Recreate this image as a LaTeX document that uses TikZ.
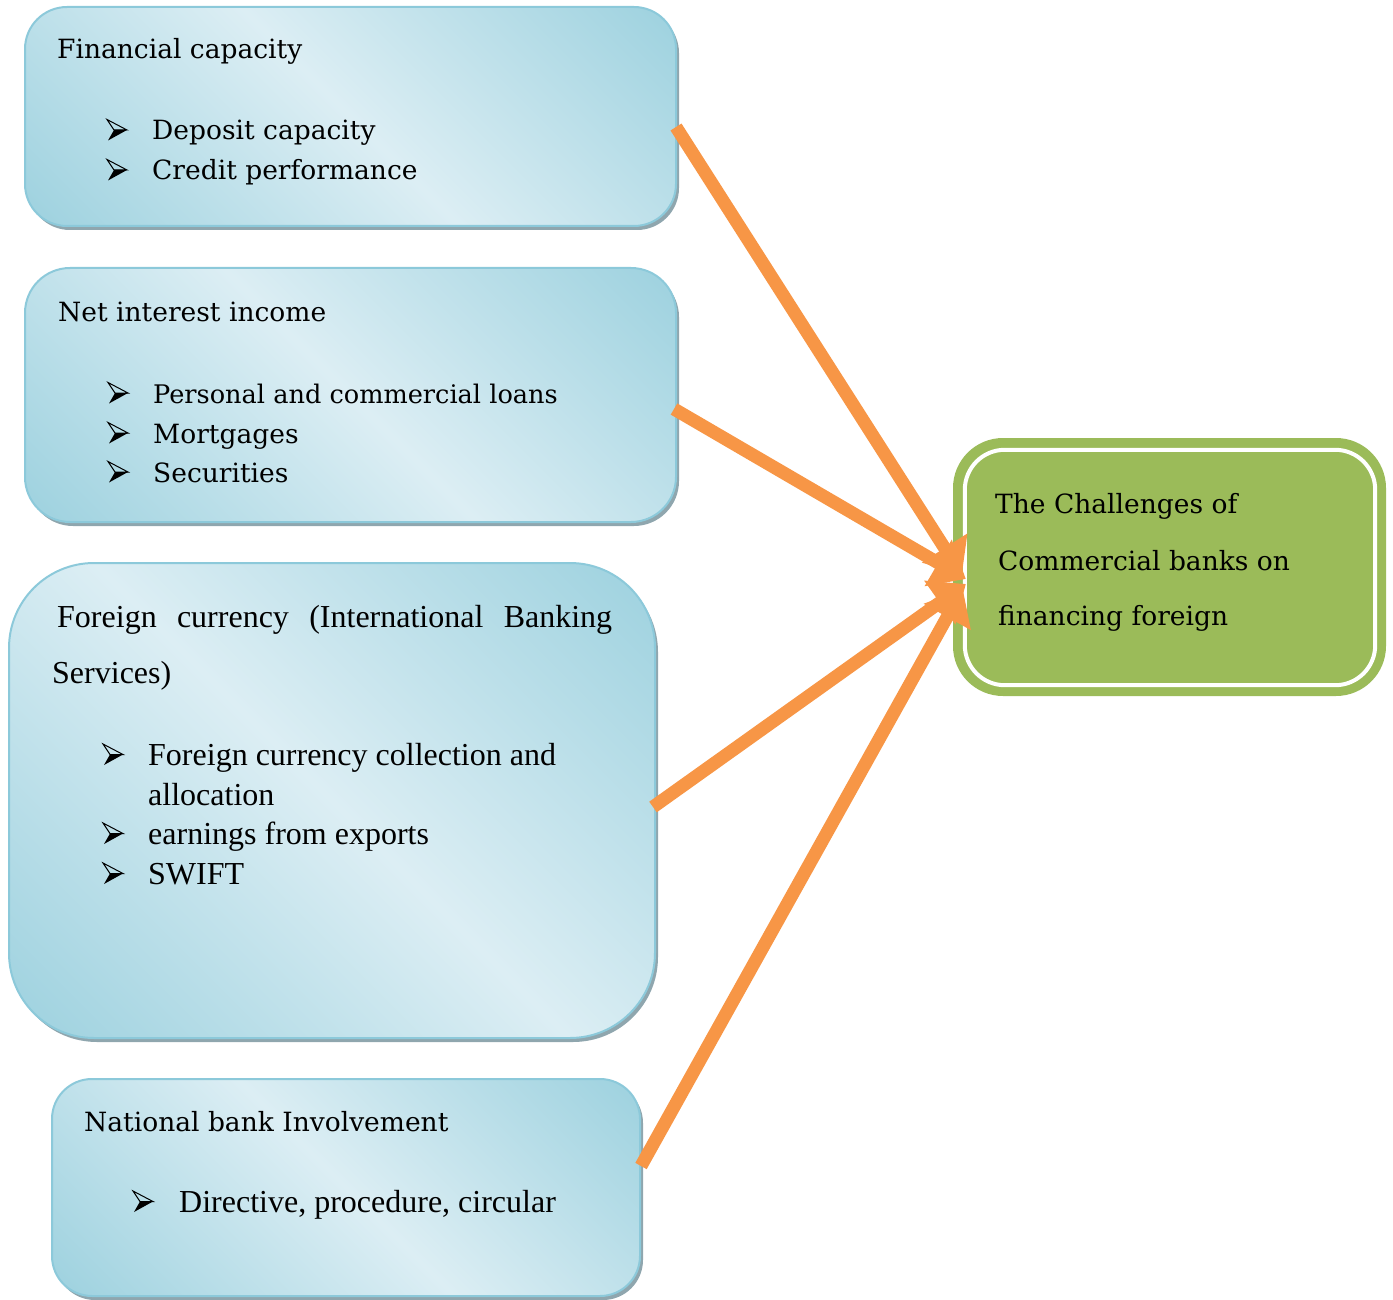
\documentclass[tikz,border=0pt]{standalone}
\usepackage{fontspec}
\setmainfont{Liberation Serif}
\newfontfamily\cambfont{DejaVu Serif}
\usetikzlibrary{arrows.meta,calc}

\definecolor{aquadark}{HTML}{98CFDD}
\definecolor{aqualight}{HTML}{DCEEF4}
\definecolor{aquaedge}{HTML}{8CC9DA}
\definecolor{boxshadow}{HTML}{8FA6AE}
\definecolor{olive}{HTML}{9BBB59}
\definecolor{accent}{HTML}{F79646}

% soft diagonal wash: dark corners, light band through the middle
\pgfdeclareverticalshading{boxwash}{100bp}{%
  color(0bp)=(aquadark); color(12bp)=(aquadark); color(50bp)=(aqualight);
  color(88bp)=(aquadark); color(100bp)=(aquadark)}

\begin{document}
\begin{tikzpicture}[x=1pt,y=-1pt,
  bluebox/.style={draw=aquaedge, line width=2pt,
    shading=boxwash, shading angle=-45, inner sep=0pt,
    preaction={fill=boxshadow, transform canvas={xshift=3pt,yshift=-4pt}}},
  goalbox/.style={fill=olive, rounded corners=50pt, inner sep=0pt},
  headtext/.style={anchor=base west, inner sep=0pt, font=\cambfont\fontsize{26.5}{32}\selectfont},
  itemtext/.style={anchor=base west, inner sep=0pt, font=\cambfont\fontsize{26.5}{32}\selectfont},
  romantext/.style={anchor=base west, inner sep=0pt, font=\fontsize{32}{38}\selectfont},
  conn/.style={draw=accent, line width=13pt,
    -{Triangle[length=32pt,width=52pt]}},
  arrowbullet/.pic={
    \fill[black] (7,0) -- (20,0) -- (1,10.5) -- cycle;
    \draw[black, line width=1pt, line join=miter] (0,-10.5) -- (20,0) -- (7,0) -- cycle;
  }
]
\useasboundingbox (0,0) rectangle (1393,1300);

% ---------- source boxes ----------
\node[bluebox, rounded corners=42pt, minimum width=651pt, minimum height=219pt] (fin) at (350.5,116.5) {};
\node[bluebox, rounded corners=45pt, minimum width=651pt, minimum height=254pt] (nii) at (350.5,395) {};
\node[bluebox, rounded corners=85pt, minimum width=646pt, minimum height=475pt] (fx) at (332,800.5) {};
\node[bluebox, rounded corners=40pt, minimum width=588pt, minimum height=217pt] (nbe) at (346,1187.5) {};

% ---------- target box ----------
\node[goalbox, minimum width=433pt, minimum height=258pt] (goal) at (1169.5,567) {};
\draw[white, line width=4pt, rounded corners=40pt]
  ($(goal.north west)+(12,12)$) rectangle ($(goal.south east)+(-11,-11)$);

% ---------- financial capacity ----------
\node[headtext] (finT) at (57,59) {Financial capacity};
\pic at (107,130) {arrowbullet};
\node[itemtext] (fin1) at (152,140) {Deposit capacity};
\pic at (107,170) {arrowbullet};
\node[itemtext] (fin2) at (152,180) {Credit performance};

% ---------- net interest income ----------
\node[headtext] (niiT) at (58,321) {Net interest income};
\pic at (108,393) {arrowbullet};
\node[itemtext, font=\cambfont\fontsize{25.6}{32}\selectfont] (nii1) at (153,403) {Personal and commercial loans};
\pic at (108,433) {arrowbullet};
\node[itemtext] (nii2) at (153,443) {Mortgages};
\pic at (108,472) {arrowbullet};
\node[itemtext] (nii3) at (153,482) {Securities};

% ---------- foreign currency ----------
\node[romantext] (fxT) at (57,627) {\makebox[555pt][s]{Foreign currency (International Banking}};
\node[romantext] (fxT2) at (52,683) {Services)};
\pic at (103,754.5) {arrowbullet};
\node[romantext] (fx1) at (148,765) {Foreign currency collection and};
\node[romantext] (fx1b) at (148,805) {allocation};
\pic at (103,833.5) {arrowbullet};
\node[romantext] (fx2) at (148,844) {earnings from exports};
\pic at (103,873.5) {arrowbullet};
\node[romantext] (fx3) at (148,884) {SWIFT};

% ---------- national bank ----------
\node[headtext] (nbeT) at (84,1131) {National bank Involvement};
\pic at (133,1201.5) {arrowbullet};
\node[romantext] (nbe1) at (179,1212) {Directive, procedure, circular};

% ---------- target text ----------
\node[headtext] (goalA) at (995,513) {The Challenges of};
\node[headtext] (goalB) at (998,570) {Commercial banks on};
\node[headtext] (goalC) at (998,625) {financing foreign};

% ---------- connectors ----------
\coordinate (tip1) at ([shift={(9pt,-8pt)}]goal.west);
\coordinate (tip2) at ([shift={(13pt,-12pt)}]goal.west);
\coordinate (tip3) at ([shift={(13pt,-17pt)}]goal.west);
\coordinate (tip4) at ([shift={(10pt,-22pt)}]goal.west);
\draw[conn] ([shift={(-1pt,-10.5pt)}]fin.east) -- (tip1);
\draw[conn] ([shift={(-3pt,-14pt)}]nii.east) -- (tip2);
\draw[conn] ([shift={(-3pt,-6.5pt)}]fx.east) -- (tip3);
\draw[conn] ([shift={(0pt,21.5pt)}]nbe.east) -- (tip4);
\end{tikzpicture}
\end{document}
